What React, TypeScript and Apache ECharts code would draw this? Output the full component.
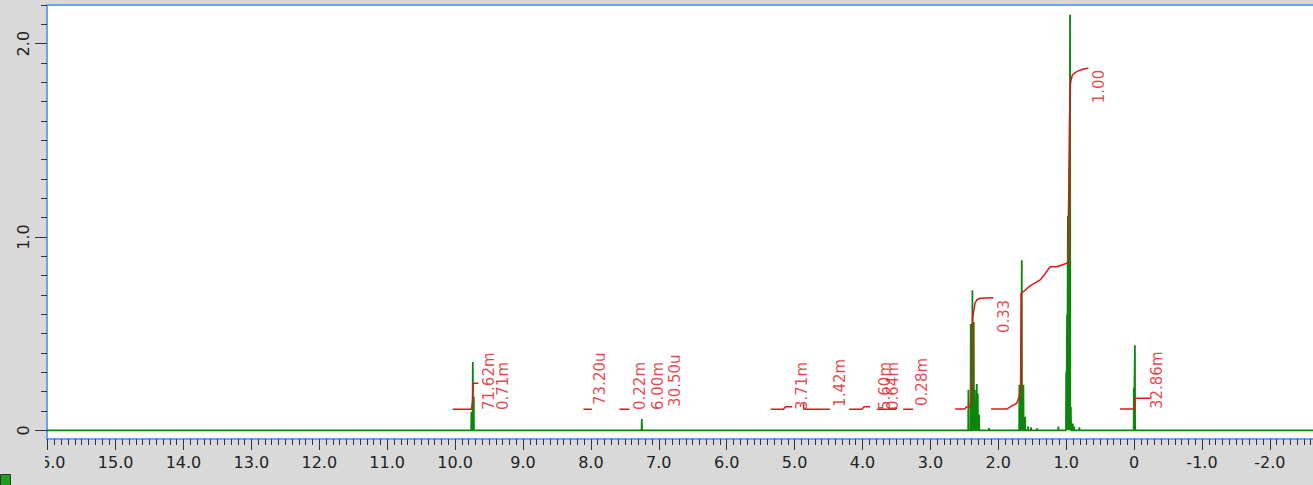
import React, { useEffect, useRef } from "react";
import * as echarts from "echarts";

// ---- axis ticks / labels ----
const xMajorTicks = [16, 15, 14, 13, 12, 11, 10, 9, 8, 7, 6, 5, 4, 3, 2, 1, 0, -1, -2];
const yMajorTicks = [0, 1, 2];
const X_MIN = -2.7;
const X_MAX = 16.01;
const Y_MIN = -0.045;
const Y_MAX = 2.2;

// ---- spectrum peaks (ppm, intensity) ----
const peakPpm = [
  9.76, 9.739, 9.725, 7.25,
  2.44, 2.405, 2.381, 2.361, 2.346, 2.317, 2.302, 2.283, 2.135,
  1.689, 1.664, 1.654, 1.63, 1.605, 1.561, 1.517, 1.429,
  1.115, 1.0, 0.987, 0.975, 0.965, 0.955, 0.943, 0.931, 0.903, 0.884, 0.806,
  0.003, -0.012,
];
const peakHeight = [
  0.095, 0.353, 0.174, 0.058,
  0.21, 0.55, 0.725, 0.56, 0.21, 0.24, 0.19, 0.08, 0.012,
  0.235, 0.453, 0.88, 0.235, 0.07, 0.02, 0.015, 0.01,
  0.02, 0.3, 0.6, 1.11, 0.6, 0.6, 2.15, 0.12, 0.035, 0.02, 0.015,
  0.22, 0.44,
];

// ---- integral curves (ppm, value) ----
const intA = [[10.034, 0.109], [9.757, 0.109], [9.742, 0.157], [9.735, 0.243], [9.657, 0.243]];
const intB = [[8.11, 0.109], [7.986, 0.109]];
const intC = [[7.58, 0.109], [7.433, 0.109]];
const intD1 = [[5.351, 0.109], [5.165, 0.109], [5.133, 0.122], [5.037, 0.122]];
const intD2 = [[4.868, 0.139], [4.864, 0.109], [4.477, 0.109]];
const intE = [[4.197, 0.109], [4.01, 0.109], [3.976, 0.122], [3.888, 0.122]];
const intF = [[3.785, 0.109], [3.52, 0.109], [3.49, 0.115]];
const intG = [[3.402, 0.109], [3.255, 0.109]];
const intH = [
  [2.636, 0.11], [2.489, 0.11], [2.474, 0.121], [2.415, 0.122], [2.393, 0.183], [2.386, 0.312],
  [2.378, 0.581], [2.364, 0.612], [2.342, 0.658], [2.317, 0.674], [2.268, 0.683], [2.072, 0.686],
];
const intI = [
  [2.106, 0.11], [1.875, 0.11], [1.801, 0.126], [1.728, 0.14], [1.694, 0.174], [1.672, 0.208],
  [1.664, 0.709], [1.63, 0.717], [1.532, 0.747], [1.384, 0.778], [1.325, 0.803], [1.237, 0.846],
  [1.138, 0.846], [1.065, 0.855], [0.991, 0.864], [0.97, 0.87], [0.967, 1.114], [0.953, 1.538],
  [0.943, 1.778], [0.928, 1.812], [0.909, 1.838], [0.869, 1.85], [0.82, 1.859], [0.747, 1.869],
  [0.673, 1.873],
];
const intJ = [[0.206, 0.11], [-0.004, 0.11], [-0.015, 0.166], [-0.246, 0.166]];
const integrals = [intA, intB, intC, intD1, intD2, intE, intF, intG, intH, intI, intJ];

// ---- integral labels ----
const labelText = [
  "71.62m", "0.71m", "73.20u", "0.22m", "6.00m", "30.50u", "3.71m", "1.42m",
  "5.60m", "0.64m", "0.28m", "0.33", "1.00", "32.86m",
];
const labelPpm = [
  9.501, 9.295, 7.866, 7.277, 7.016, 6.761, 4.895, 4.331,
  3.669, 3.552, 3.128, 1.916, 0.516, -0.337,
];
const labelY = [
  0.105, 0.105, 0.131, 0.105, 0.105, 0.121, 0.105, 0.121,
  0.105, 0.105, 0.126, 0.503, 1.692, 0.11,
];

const FONT = "DejaVu Sans";
const GREEN = "#0a860a";
const RED = "#e3141c";

function buildSpectrum(): number[][] {
  const w = 0.003;
  const pts: number[][] = [[X_MAX, 0]];
  const order = peakPpm.map((p, i) => i).sort((a, b) => peakPpm[b] - peakPpm[a]);
  for (const i of order) {
    const p = peakPpm[i];
    pts.push([p + w, 0], [p, peakHeight[i]], [p - w, 0]);
  }
  pts.push([X_MIN, 0]);
  return pts;
}

function minorTicks(lo: number, hi: number): number[] {
  const out: number[] = [];
  for (let i = Math.ceil(lo * 10); i <= Math.floor(hi * 10); i++) out.push(i / 10);
  return out;
}

const fmt = (v: number) => (v === 0 ? "0" : v.toFixed(1));

export default function App() {
  const ref = useRef<HTMLDivElement>(null);
  useEffect(() => {
    const chart = echarts.init(ref.current!, null, { renderer: "svg" });
    const tickStyle = { color: "#333", width: 1 };
    const noLine = { show: false, onZero: false };
    const option: any = {
      animation: false,
      backgroundColor: "#d9d9d9",
      grid: {
        show: true,
        left: 47,
        top: 5,
        width: (X_MAX - X_MIN) * 67.9,
        height: 434,
        containLabel: false,
        outerBoundsMode: "none",
        backgroundColor: "#ffffff",
        borderColor: "#6aa2f7",
        borderWidth: 2,
      },
      xAxis: [
        {
          type: "value",
          inverse: true,
          min: X_MIN,
          max: X_MAX,
          position: "bottom",
          axisLine: noLine,
          splitLine: { show: false },
          axisTick: { show: true, customValues: xMajorTicks, length: 11, lineStyle: tickStyle },
          axisLabel: {
            show: true,
            customValues: xMajorTicks,
            formatter: fmt,
            margin: 15,
            fontSize: 16,
            fontFamily: FONT,
            color: "#222",
          },
        },
        {
          type: "value",
          inverse: true,
          min: X_MIN,
          max: X_MAX,
          position: "bottom",
          axisLine: noLine,
          splitLine: { show: false },
          axisTick: { show: true, customValues: minorTicks(X_MIN, X_MAX), length: 6, lineStyle: tickStyle },
          axisLabel: { show: false },
        },
      ],
      yAxis: [
        {
          type: "value",
          min: Y_MIN,
          max: Y_MAX,
          position: "left",
          axisLine: noLine,
          splitLine: { show: false },
          axisTick: { show: true, customValues: yMajorTicks, length: 12, lineStyle: tickStyle },
          axisLabel: {
            show: true,
            customValues: yMajorTicks,
            formatter: fmt,
            rotate: 90,
            margin: 16,
            fontSize: 16,
            fontFamily: FONT,
            color: "#222",
          },
        },
        {
          type: "value",
          min: Y_MIN,
          max: Y_MAX,
          position: "left",
          offset: 0,
          axisLine: noLine,
          splitLine: { show: false },
          axisTick: { show: true, customValues: minorTicks(0, Y_MAX), length: 6, lineStyle: tickStyle },
          axisLabel: { show: false },
        },
      ],
      series: [
        {
          type: "line",
          xAxisIndex: 0,
          yAxisIndex: 0,
          data: buildSpectrum(),
          showSymbol: false,
          symbol: "none",
          lineStyle: { color: GREEN, width: 1.8 },
          silent: true,
          z: 2,
        },
        ...integrals.map((d) => ({
          type: "line",
          xAxisIndex: 0,
          yAxisIndex: 0,
          data: d,
          showSymbol: false,
          symbol: "none",
          lineStyle: { color: RED, width: 1.5 },
          silent: true,
          z: 3,
        })),
        {
          type: "scatter",
          xAxisIndex: 0,
          yAxisIndex: 0,
          symbolSize: 0,
          silent: true,
          z: 4,
          data: labelText.map((t, i) => ({ name: t, value: [labelPpm[i], labelY[i]] })),
          label: {
            show: true,
            formatter: "{b}",
            position: "inside",
            rotate: 90,
            align: "left",
            verticalAlign: "middle",
            fontSize: 15,
            fontFamily: FONT,
            color: RED,
          },
        },
      ],
      graphic: [
        {
          type: "rect",
          z: 100,
          shape: { x: 0, y: 447, width: 45, height: 26 },
          style: { fill: "#d9d9d9" },
        },
        {
          type: "rect",
          z: 101,
          shape: { x: 0.5, y: 474.5, width: 10, height: 12 },
          style: { fill: "#1f9f1f", stroke: "#333", lineWidth: 1 },
        },
      ],
    };
    chart.setOption(option);
    return () => chart.dispose();
  }, []);
  return (
    <div
      ref={ref}
      style={{ position: "fixed", left: 0, top: 0, width: 1313, height: 485 }}
    />
  );
}
